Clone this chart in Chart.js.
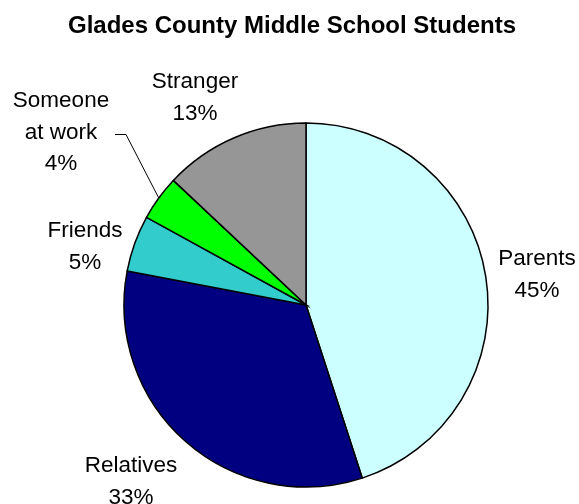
<!DOCTYPE html>
<html>
<head>
<meta charset="utf-8">
<script src="https://cdn.jsdelivr.net/npm/chart.js@4"></script>
<style>
html,body{margin:0;padding:0;background:#fff;}
#wrap{width:579px;height:504px;position:relative;}
</style>
</head>
<body>
<div id="wrap"><canvas id="c" width="579" height="504"></canvas></div>
<script>
const titleText = 'Glades County Middle School Students';
const categories = ['Parents', 'Relatives', 'Friends', 'Someone at work', 'Stranger'];
const values = [45, 33, 5, 4, 13];
const colors = ['#CCFFFF', '#000080', '#33CCCC', '#00FF00', '#969696'];
// label text lines (layout only)
const labelLines = [['Parents'], ['Relatives'], ['Friends'], ['Someone', 'at work'], ['Stranger']];
// [center x, first baseline y]
const labelPos = [[537, 265], [131, 472], [85, 237], [61, 107], [195, 88]];
const lineGap = 31.5;

const labelPlugin = {
  id: 'labels',
  afterDraw(chart) {
    const ctx = chart.ctx;
    ctx.save();
    ctx.fillStyle = '#000';
    ctx.textAlign = 'center';
    ctx.textBaseline = 'alphabetic';
    ctx.font = 'bold 24px "Liberation Sans", Arial, sans-serif';
    ctx.fillText(titleText, 292, 33);
    ctx.font = '22.5px "Liberation Sans", Arial, sans-serif';
    const meta = chart.getDatasetMeta(0);
    const total = values.reduce((a, b) => a + b, 0);
    values.forEach((v, i) => {
      const [x, y] = labelPos[i];
      const lines = labelLines[i].concat([Math.round(v / total * 100) + '%']);
      lines.forEach((t, k) => ctx.fillText(t, x, y + k * lineGap));
    });
    // leader line for "Someone at work"
    const arc = meta.data[3];
    const mid = (arc.startAngle + arc.endAngle) / 2;
    const ex = arc.x + Math.cos(mid) * arc.outerRadius;
    const ey = arc.y + Math.sin(mid) * arc.outerRadius;
    ctx.beginPath();
    ctx.strokeStyle = '#000';
    ctx.lineWidth = 1;
    ctx.moveTo(115, 134.5);
    ctx.lineTo(126, 134.5);
    ctx.lineTo(ex, ey);
    ctx.stroke();
    ctx.restore();
  }
};

new Chart(document.getElementById('c'), {
  type: 'pie',
  data: {
    labels: categories,
    datasets: [{
      data: values,
      backgroundColor: colors,
      borderColor: '#000',
      borderWidth: 1.5,
      borderJoinStyle: 'miter'
    }]
  },
  options: {
    responsive: false,
    animation: false,
    radius: 182,
    layout: { padding: { left: 124, right: 91, top: 123, bottom: 17 } },
    plugins: { legend: { display: false }, tooltip: { enabled: false }, title: { display: false } }
  },
  plugins: [labelPlugin]
});
</script>
</body>
</html>
